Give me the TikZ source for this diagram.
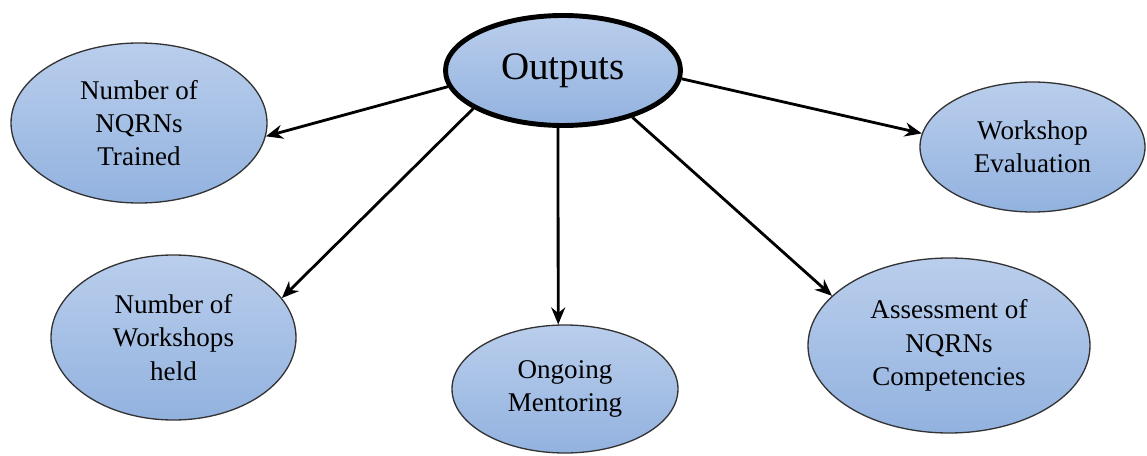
\documentclass[tikz,border=0pt]{standalone}
\usepackage{fontspec}
\setmainfont{Liberation Serif}
\newfontfamily\bubblefont{Liberation Serif}
\usetikzlibrary{arrows.meta,shapes.geometric}
\definecolor{bubbletop}{RGB}{186,206,236}
\definecolor{bubblebot}{RGB}{146,178,223}
\begin{document}
\begin{tikzpicture}[x=0.02cm, y=-0.02cm,
  bubble/.style={ellipse, draw=black!80, line width=0.75pt,
    top color=bubbletop, bottom color=bubblebot,
    inner sep=0pt, align=center, font=\bubblefont\fontsize{15.4}{19}\selectfont},
  hub/.style={bubble, draw=black, line width=2.8pt,
    font=\bubblefont\fontsize{22.2}{26}\selectfont},
  link/.style={-{Stealth[length=0.34cm,width=0.28cm]}, line width=1.6pt}]

\useasboundingbox (0,0) rectangle (1147,456);

% central node
\node[hub, minimum width=235*0.02cm, minimum height=110*0.02cm] (out) at (563,70.5) {Outputs};

% output bubbles
\node[bubble, minimum width=256*0.02cm, minimum height=160*0.02cm] (trained) at (139,123)
  {Number of\\NQRNs\\Trained};
\node[bubble, minimum width=225*0.02cm, minimum height=130*0.02cm] (eval) at (1032.5,147)
  {Workshop\\Evaluation};
\node[bubble, minimum width=245*0.02cm, minimum height=165*0.02cm] (held) at (173.5,337.5)
  {Number of\\Workshops\\held};
\node[bubble, minimum width=226*0.02cm, minimum height=128*0.02cm] (ment) at (565,389)
  {Ongoing\\Mentoring};
\node[bubble, minimum width=282*0.02cm, minimum height=175*0.02cm] (assess) at (949,345.5)
  {Assessment of\\NQRNs\\Competencies};

% connectors
\draw[link] (out.188) -- (trained.-6.7);
\draw[link] (out.203.5) -- (held.20.4);
\draw[link] (out.-95.2) -- (ment.96.2);
\draw[link] (out.-34.2) -- (assess.157);
\draw[link] (out.-4.6) -- (eval.173.9);
\end{tikzpicture}
\end{document}
